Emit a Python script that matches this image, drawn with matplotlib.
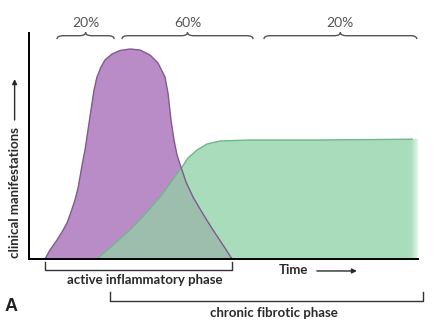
import numpy as np
import matplotlib.pyplot as plt
from matplotlib.patches import Polygon, PathPatch
from matplotlib.path import Path

# time runs 0-100 along the x axis, clinical level 0-100 up the y axis
inflam_t = [4.11, 5.40, 7.20, 8.48, 9.77, 10.80, 11.83, 12.60, 13.11, 13.88,
            14.40, 15.17, 15.94, 16.71, 17.48, 18.51, 19.54, 21.34, 23.39, 25.96,
            28.53, 31.11, 33.16, 34.96, 35.73, 36.50, 37.28, 38.05, 39.07, 40.36,
            42.16, 44.73, 47.30, 49.87, 52.19]
inflam_y = [0.0, 3.98, 8.41, 11.95, 15.93, 20.80, 26.11, 31.42, 36.28, 43.81,
            48.23, 57.08, 65.93, 74.78, 80.53, 84.96, 88.05, 90.71, 92.26, 92.92,
            92.48, 90.27, 86.73, 80.53, 73.45, 61.50, 52.65, 46.02, 40.71, 34.07,
            27.43, 19.91, 12.83, 6.19, 0.0]

fibro_t = [17.48, 21.59, 25.96, 30.08, 33.68, 36.50, 39.33, 40.87, 43.19, 45.76,
           49.10, 56.81, 74.81, 100.0]
fibro_y = [0.0, 6.19, 12.83, 20.35, 27.43, 34.07, 40.71, 44.69, 48.23, 50.88,
           52.21, 52.65, 52.65, 53.10]

brace_spans = [(7.2, 21.9), (23.9, 57.6), (60.4, 99.7)]
brace_labels = ['20%', '60%', '20%']

purple = '#b98cc8'
purple_edge = '#7d5c8e'
green = '#a9dcba'
green_edge = '#6db88a'
overlap = '#9dbdad'
ink = '#2a2a2a'

fig = plt.figure(figsize=(4.38, 3.30), dpi=100)
ax = fig.add_axes([0, 0, 1, 1])
ax.set_xlim(-7.455, 105.14)
ax.set_ylim(-31.42, 114.6)
ax.axis('off')

# fibrotic phase curve, closed along the baseline
fibro_pts = np.column_stack([fibro_t + [100.0], fibro_y + [0.0]])
fibro_patch = Polygon(fibro_pts, closed=True, facecolor=green, edgecolor='none', zorder=2)
ax.add_patch(fibro_patch)

inflam_pts = np.column_stack([inflam_t, inflam_y])
ax.add_patch(Polygon(inflam_pts, closed=True, facecolor=purple, edgecolor='none', zorder=3))

# where the two phases overlap
ov = Polygon(inflam_pts, closed=True, facecolor=overlap, edgecolor='none', zorder=4)
ax.add_patch(ov)
ov.set_clip_path(fibro_patch)

# soft right edge of the plateau
fade = np.linspace(0, 1, 64).reshape(1, -1)
fade_rgba = np.ones((1, 64, 4))
fade_rgba[..., 3] = fade ** 1.5
ax.imshow(fade_rgba, extent=[97.6, 100.4, -0.3, 56], aspect='auto', zorder=5,
          interpolation='bilinear')

ax.plot(fibro_t[:-1] + [98.5], fibro_y[:-1] + [53.0], color=green_edge, lw=1.0,
        zorder=6, solid_joinstyle='round')
ax.plot(inflam_t, inflam_y, color=purple_edge, lw=1.0, zorder=7,
        solid_joinstyle='round')

# axes
ax.plot([0, 0, 100], [100, 0, 0], color='black', lw=1.4, zorder=8,
        solid_joinstyle='miter')


def brace(x0, x1, y0, h, r):
    xm = (x0 + x1) / 2
    ym = y0 + h / 2
    verts = [(x0, y0), (x0, ym), (x0 + r, ym),
             (xm - r, ym), (xm, ym), (xm, y0 + h),
             (xm, ym), (xm + r, ym),
             (x1 - r, ym), (x1, ym), (x1, y0)]
    codes = [Path.MOVETO, Path.CURVE3, Path.CURVE3,
             Path.LINETO, Path.CURVE3, Path.CURVE3,
             Path.CURVE3, Path.CURVE3,
             Path.LINETO, Path.CURVE3, Path.CURVE3]
    return Path(verts, codes)


for (x0, x1), lab in zip(brace_spans, brace_labels):
    ax.add_patch(PathPatch(brace(x0, x1, 97.3, 3.0, 1.6), facecolor='none',
                           edgecolor='#555555', lw=1.0))
    ax.text((x0 + x1) / 2, 104.5, lab, ha='center', va='center',
            fontsize=10, color='#555555', family='Lato')

# phase brackets under the time axis
ax.plot([4.1, 4.1, 52.2, 52.2], [-1.3, -4.9, -4.9, -1.3], color='#333333', lw=1.0)
ax.text(29.8, -9.4, 'active inflammatory phase', ha='center', va='center',
        fontsize=9.5, fontweight='bold', color=ink, family='Lato')

ax.plot([20.8, 20.8, 101.3, 101.3], [-14.6, -18.8, -18.8, -14.6], color='#333333', lw=1.0)
ax.text(62.9, -23.8, 'chronic fibrotic phase', ha='center', va='center',
        fontsize=9.5, fontweight='bold', color=ink, family='Lato')

ax.text(67.9, -4.9, 'Time', ha='center', va='center', fontsize=9.5,
        fontweight='bold', color=ink, family='Lato')
ax.annotate('', xy=(84.3, -5.3), xytext=(74.0, -5.3),
            arrowprops=dict(arrowstyle='-|>', color=ink, lw=1.0,
                            mutation_scale=7, shrinkA=0, shrinkB=0))

ax.text(-3.7, 29.4, 'clinical manifestations', ha='center', va='center',
        rotation=90, fontsize=9.5, fontweight='bold', color=ink, family='Lato')
ax.annotate('', xy=(-3.7, 79.6), xytext=(-3.7, 61.5),
            arrowprops=dict(arrowstyle='-|>', color=ink, lw=1.0,
                            mutation_scale=7, shrinkA=0, shrinkB=0))

ax.text(-4.5, -21.2, 'A', ha='center', va='center', fontsize=13,
        fontweight='bold', color='#222222', family='Liberation Sans')

fig.savefig('out.png', dpi=100)
